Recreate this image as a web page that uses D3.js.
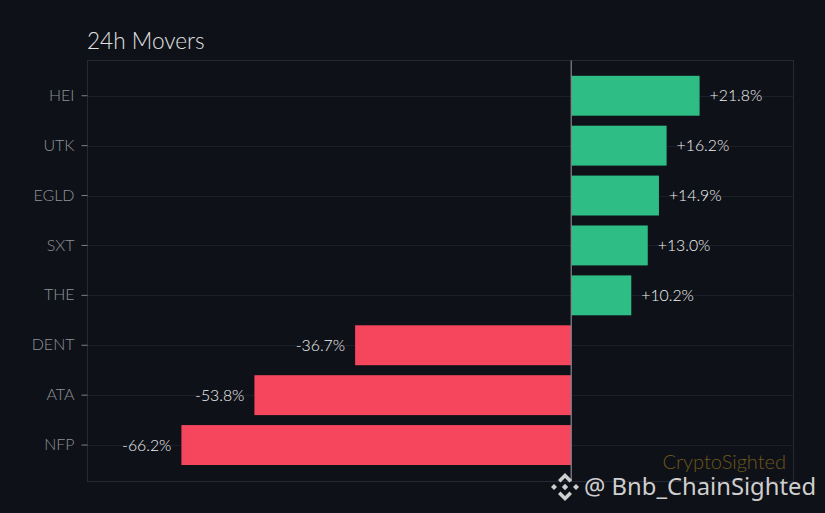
<!DOCTYPE html>
<html lang="en">
<head>
<meta charset="UTF-8">
<title>24h Movers</title>
<script src="https://d3js.org/d3.v7.min.js"></script>
<style>
    html, body { margin: 0; padding: 0; background: #0e1118; overflow: hidden; }
    svg { display: block; font-family: Lato, sans-serif; }
    .tick-label { fill: #8e9197; font-size: 16px; font-weight: 300; }
    .value-label { fill: #f2f2f2; font-size: 15.8px; font-weight: 300; }
</style>
</head>
<body>
<svg id="chart" width="825" height="513"></svg>
<script>
const symbols = ["HEI", "UTK", "EGLD", "SXT", "THE", "DENT", "ATA", "NFP"];
const changes = [21.8, 16.2, 14.9, 13.0, 10.2, -36.7, -53.8, -66.2];
const xDomain = [-82.2, 37.7];

const plot = { left: 87.5, right: 793.5, top: 60.5, bottom: 481.5 };
const svg = d3.select("#chart");

const x = d3.scaleLinear().domain(xDomain).range([plot.left - 0.3, plot.right - 0.3]);
const y = d3.scaleBand().domain(symbols).range([70.8, 470]).paddingInner(0.2).paddingOuter(0.1);

// grid lines at each category
svg.append("g").selectAll("line").data(symbols).join("line")
    .attr("x1", plot.left).attr("x2", plot.right)
    .attr("y1", d => Math.round(y(d) + y.bandwidth() / 2) + 0.5)
    .attr("y2", d => Math.round(y(d) + y.bandwidth() / 2) + 0.5)
    .attr("stroke", "#1b1e26");

// plot frame
svg.append("rect")
    .attr("x", plot.left).attr("y", plot.top)
    .attr("width", plot.right - plot.left).attr("height", plot.bottom - plot.top)
    .attr("fill", "none").attr("stroke", "#262932");

// bars
svg.append("g").selectAll("rect").data(symbols).join("rect")
    .attr("x", (d, i) => x(Math.min(0, changes[i])))
    .attr("y", d => y(d))
    .attr("width", (d, i) => Math.abs(x(changes[i]) - x(0)))
    .attr("height", y.bandwidth())
    .attr("fill", (d, i) => changes[i] >= 0 ? "#2ebd85" : "#f6465d");

// zero line
svg.append("line")
    .attr("x1", x(0)).attr("x2", x(0))
    .attr("y1", plot.top).attr("y2", plot.bottom)
    .attr("stroke", "#85888e").attr("stroke-width", 1.2);

// y axis
const yAxis = svg.append("g")
    .attr("transform", `translate(${plot.left},0)`)
    .call(d3.axisLeft(y).tickSize(6).tickPadding(7));
yAxis.attr("font-family", null).attr("font-size", null);
yAxis.select(".domain").remove();
yAxis.selectAll(".tick line").attr("stroke", "#7d8087");
yAxis.selectAll(".tick text").attr("class", "tick-label").attr("fill", null);

// value labels
svg.append("g").selectAll("text").data(symbols).join("text")
    .attr("class", "value-label")
    .attr("x", (d, i) => x(changes[i]) + (changes[i] >= 0 ? 10 : -10))
    .attr("y", d => y(d) + y.bandwidth() / 2)
    .attr("dy", "0.35em")
    .attr("text-anchor", (d, i) => changes[i] >= 0 ? "start" : "end")
    .text((d, i) => (changes[i] >= 0 ? "+" : "") + changes[i].toFixed(1) + "%");

// title
svg.append("text").attr("x", 87).attr("y", 49)
    .attr("fill", "#e2e2e2").attr("font-size", 22.6).attr("font-weight", 300)
    .text("24h Movers");

// site mark
svg.append("text").attr("x", 786).attr("y", 469).attr("text-anchor", "end")
    .attr("fill", "#6e5819").attr("font-size", 20).attr("font-weight", 300)
    .text("CryptoSighted");

// Binance logo + handle watermark
const logo = svg.append("g").attr("transform", "translate(565,487)").attr("fill", "#cfcfcf");
logo.append("path").attr("d", "M0,-14 L7,-7 L4.5,-4.5 L0,-9 L-4.5,-4.5 L-7,-7 Z");
logo.append("path").attr("d", "M0,14 L7,7 L4.5,4.5 L0,9 L-4.5,4.5 L-7,7 Z");
logo.append("path").attr("d", "M-14,0 L-11,-3 L-8,0 L-11,3 Z");
logo.append("path").attr("d", "M14,0 L11,-3 L8,0 L11,3 Z");
logo.append("path").attr("d", "M0,-3.2 L3.2,0 L0,3.2 L-3.2,0 Z");

svg.append("text").attr("x", 584).attr("y", 495)
    .attr("fill", "#cfcfcf").attr("font-size", 23.8)
    .attr("style", "font-family:'Noto Sans',sans-serif")
    .text("@ Bnb_ChainSighted");
</script>
</body>
</html>
